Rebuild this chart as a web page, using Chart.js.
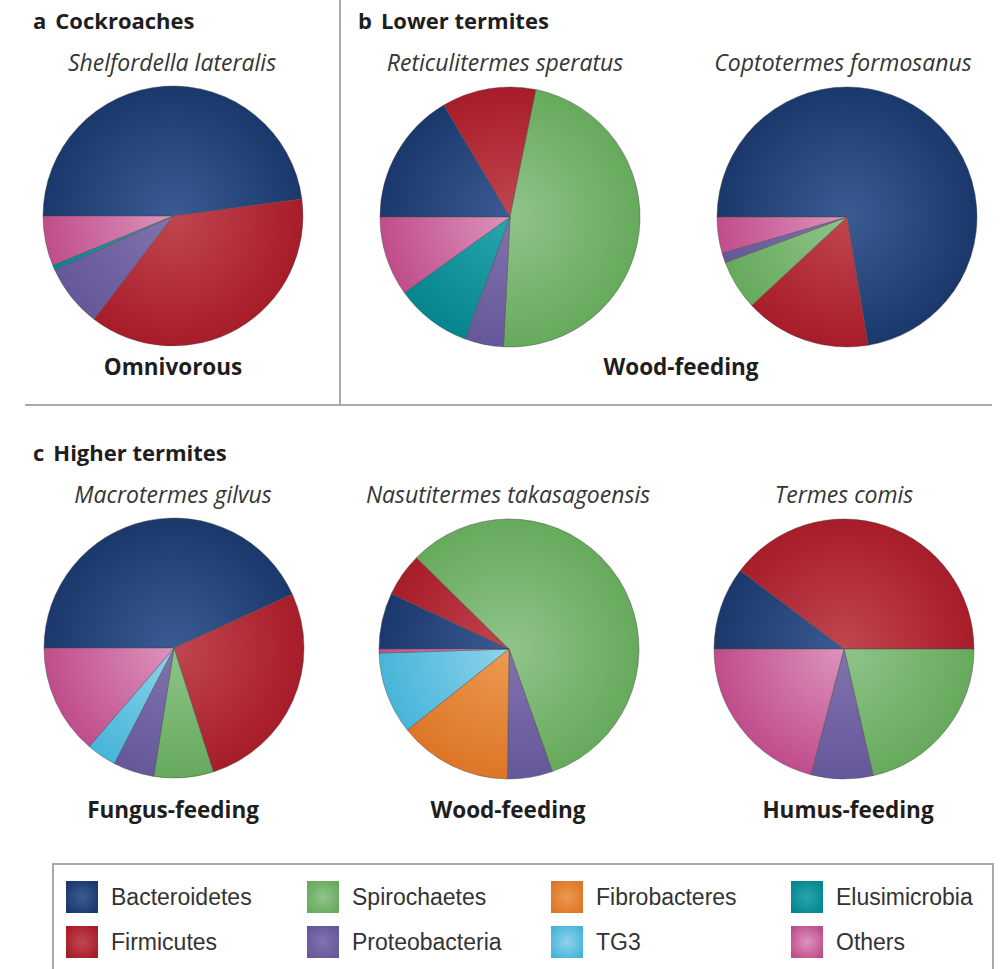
<!DOCTYPE html>
<html>
<head>
<meta charset="utf-8">
<script src="https://cdn.jsdelivr.net/npm/chart.js@4.4.1/dist/chart.umd.min.js"></script>
<style>
  html, body { margin: 0; padding: 0; background: #ffffff; }
  #page { position: relative; width: 1003px; height: 969px; overflow: hidden; font-family: "Open Sans", Lato, sans-serif; color: #222; }
  .abs { position: absolute; white-space: nowrap; }
  .head { font-weight: 700; font-size: 22px; line-height: 22px; color: #1e1e1e; }
  .head .tag { margin-right: 9px; }
  .species { font-style: italic; font-size: 23px; line-height: 24px; color: #353535; transform: translateX(-50%); }
  .diet { font-weight: 700; font-size: 22.5px; line-height: 24px; color: #1e1e1e; transform: translateX(-50%); }
  .pie { position: absolute; width: 280px; height: 280px; }
  .rule-v { position: absolute; left: 339px; top: 0; width: 2px; height: 406px; background: #a9a9a9; }
  .rule-h { position: absolute; left: 25px; top: 404px; width: 967px; height: 2px; background: #a9a9a9; }
  #legend { position: absolute; left: 52px; top: 863px; width: 942px; height: 140px; border: 2px solid #a9a9a9; box-sizing: border-box; }
  .key { position: absolute; height: 32px; display: flex; align-items: center; }
  .swatch { width: 32px; height: 32px; margin-right: 13px; box-sizing: border-box; }
  .key span { font-family: "Liberation Sans", Arimo, sans-serif; font-size: 23px; color: #333; }
</style>
</head>
<body>
<div id="page">
  <div class="rule-v"></div>
  <div class="rule-h"></div>

  <div class="abs head" style="left:33px; top:9px;"><span class="tag">a</span>Cockroaches</div>
  <div class="abs head" style="left:358px; top:9px;"><span class="tag">b</span>Lower termites</div>
  <div class="abs head" style="left:33px; top:441px;"><span class="tag">c</span>Higher termites</div>

  <div class="abs species" style="left:172px; top:50px;">Shelfordella lateralis</div>
  <div class="abs species" style="left:505px; top:50px;">Reticulitermes speratus</div>
  <div class="abs species" style="left:843px; top:50px;">Coptotermes formosanus</div>
  <div class="abs species" style="left:173px; top:482px;">Macrotermes gilvus</div>
  <div class="abs species" style="left:508px; top:482px;">Nasutitermes takasagoensis</div>
  <div class="abs species" style="left:844px; top:482px;">Termes comis</div>

  <div class="abs diet" style="left:173px; top:355px;">Omnivorous</div>
  <div class="abs diet" style="left:681px; top:355px;">Wood-feeding</div>
  <div class="abs diet" style="left:173px; top:798px;">Fungus-feeding</div>
  <div class="abs diet" style="left:508px; top:798px;">Wood-feeding</div>
  <div class="abs diet" style="left:848px; top:798px;">Humus-feeding</div>

  <div class="pie" style="left:33px; top:76px;"><canvas id="pieA"></canvas></div>
  <div class="pie" style="left:370px; top:77px;"><canvas id="pieB1"></canvas></div>
  <div class="pie" style="left:707px; top:77px;"><canvas id="pieB2"></canvas></div>
  <div class="pie" style="left:34px; top:508px;"><canvas id="pieC1"></canvas></div>
  <div class="pie" style="left:369px; top:509px;"><canvas id="pieC2"></canvas></div>
  <div class="pie" style="left:704px; top:509px;"><canvas id="pieC3"></canvas></div>

  <div id="legend"></div>
</div>

<script>
// Phyla, in the order slices are laid out clockwise from 9 o'clock
const phyla = ['Bacteroidetes', 'Firmicutes', 'Spirochaetes', 'Proteobacteria', 'Fibrobacteres', 'Elusimicrobia', 'TG3', 'Others'];

// Relative abundance (%) of each phylum in the gut community
const shelfordellaLateralis     = [47.9, 37.5,  0.0, 7.8,  0.0, 0.6,  0.0,  6.2];
const reticulitermesSperatus    = [16.5, 11.7, 47.6, 4.8,  0.0, 9.5,  0.0,  9.9];
const coptotermesFormosanus     = [72.4, 15.7,  6.2, 1.2,  0.0, 0.0,  0.0,  4.5];
const macrotermesGilvus         = [43.2, 26.9,  7.4, 5.1,  0.0, 0.0,  3.7, 13.7];
const nasutitermesTakasagoensis = [ 7.0,  5.4, 57.2, 5.6, 14.1, 0.0, 10.2,  0.5];
const termesComis               = [10.3, 39.7, 21.4, 7.7,  0.0, 0.0,  0.0, 20.9];

// Light (centre) and dark (rim) shade of each phylum colour
const shadeLight = ['#3b5b93', '#bf4650', '#90c48a', '#8273ae', '#ec9a52', '#28a6ae', '#8ed3ea', '#dc94bd'];
const shadeDark  = ['#1a386b', '#a81c29', '#66aa5c', '#65589a', '#dd7626', '#07858f', '#47b5da', '#c04d8b'];

const PIE_RADIUS = 130;

function drawPie(canvasId, values) {
  // Absent phyla are left out so they leave no seam in the pie
  const idx = values.map((v, i) => i).filter(i => values[i] > 0);
  new Chart(document.getElementById(canvasId), {
    type: 'pie',
    data: {
      labels: idx.map(i => phyla[i]),
      datasets: [{
        data: idx.map(i => values[i]),
        // Each slice is shaded radially: lighter at the hub, deeper at the rim
        backgroundColor: (ctx) => {
          const p = idx[ctx.dataIndex];
          const chart = ctx.chart;
          const area = chart.chartArea;
          if (!area || p === undefined) return shadeDark[p || 0];
          const cx = (area.left + area.right) / 2;
          const cy = (area.top + area.bottom) / 2;
          const g = chart.ctx.createRadialGradient(cx, cy, 0, cx, cy, PIE_RADIUS);
          g.addColorStop(0, shadeLight[p]);
          g.addColorStop(1, shadeDark[p]);
          return g;
        },
        borderColor: 'rgba(70,70,70,0.55)',
        borderWidth: 0.8,
        radius: PIE_RADIUS
      }]
    },
    options: {
      responsive: true,
      maintainAspectRatio: false,
      animation: false,
      rotation: -90,
      layout: { padding: 0 },
      plugins: { legend: { display: false }, tooltip: { enabled: false } }
    }
  });
}

drawPie('pieA', shelfordellaLateralis);
drawPie('pieB1', reticulitermesSperatus);
drawPie('pieB2', coptotermesFormosanus);
drawPie('pieC1', macrotermesGilvus);
drawPie('pieC2', nasutitermesTakasagoensis);
drawPie('pieC3', termesComis);

// Key: four columns, two rows
const legendOrder = ['Bacteroidetes', 'Firmicutes', 'Spirochaetes', 'Proteobacteria', 'Fibrobacteres', 'TG3', 'Elusimicrobia', 'Others'];
const legendCols = [12, 253, 497, 737];
const legendRows = [16, 61];
const legendBox = document.getElementById('legend');
legendOrder.forEach((name, k) => {
  const i = phyla.indexOf(name);
  const key = document.createElement('div');
  key.className = 'key';
  key.style.left = legendCols[Math.floor(k / 2)] + 'px';
  key.style.top = legendRows[k % 2] + 'px';
  const sw = document.createElement('div');
  sw.className = 'swatch';
  sw.style.background = 'radial-gradient(circle at 50% 50%, ' + shadeLight[i] + ' 0%, ' + shadeDark[i] + ' 85%)';
  const label = document.createElement('span');
  label.textContent = name;
  key.appendChild(sw);
  key.appendChild(label);
  legendBox.appendChild(key);
});
</script>
</body>
</html>
